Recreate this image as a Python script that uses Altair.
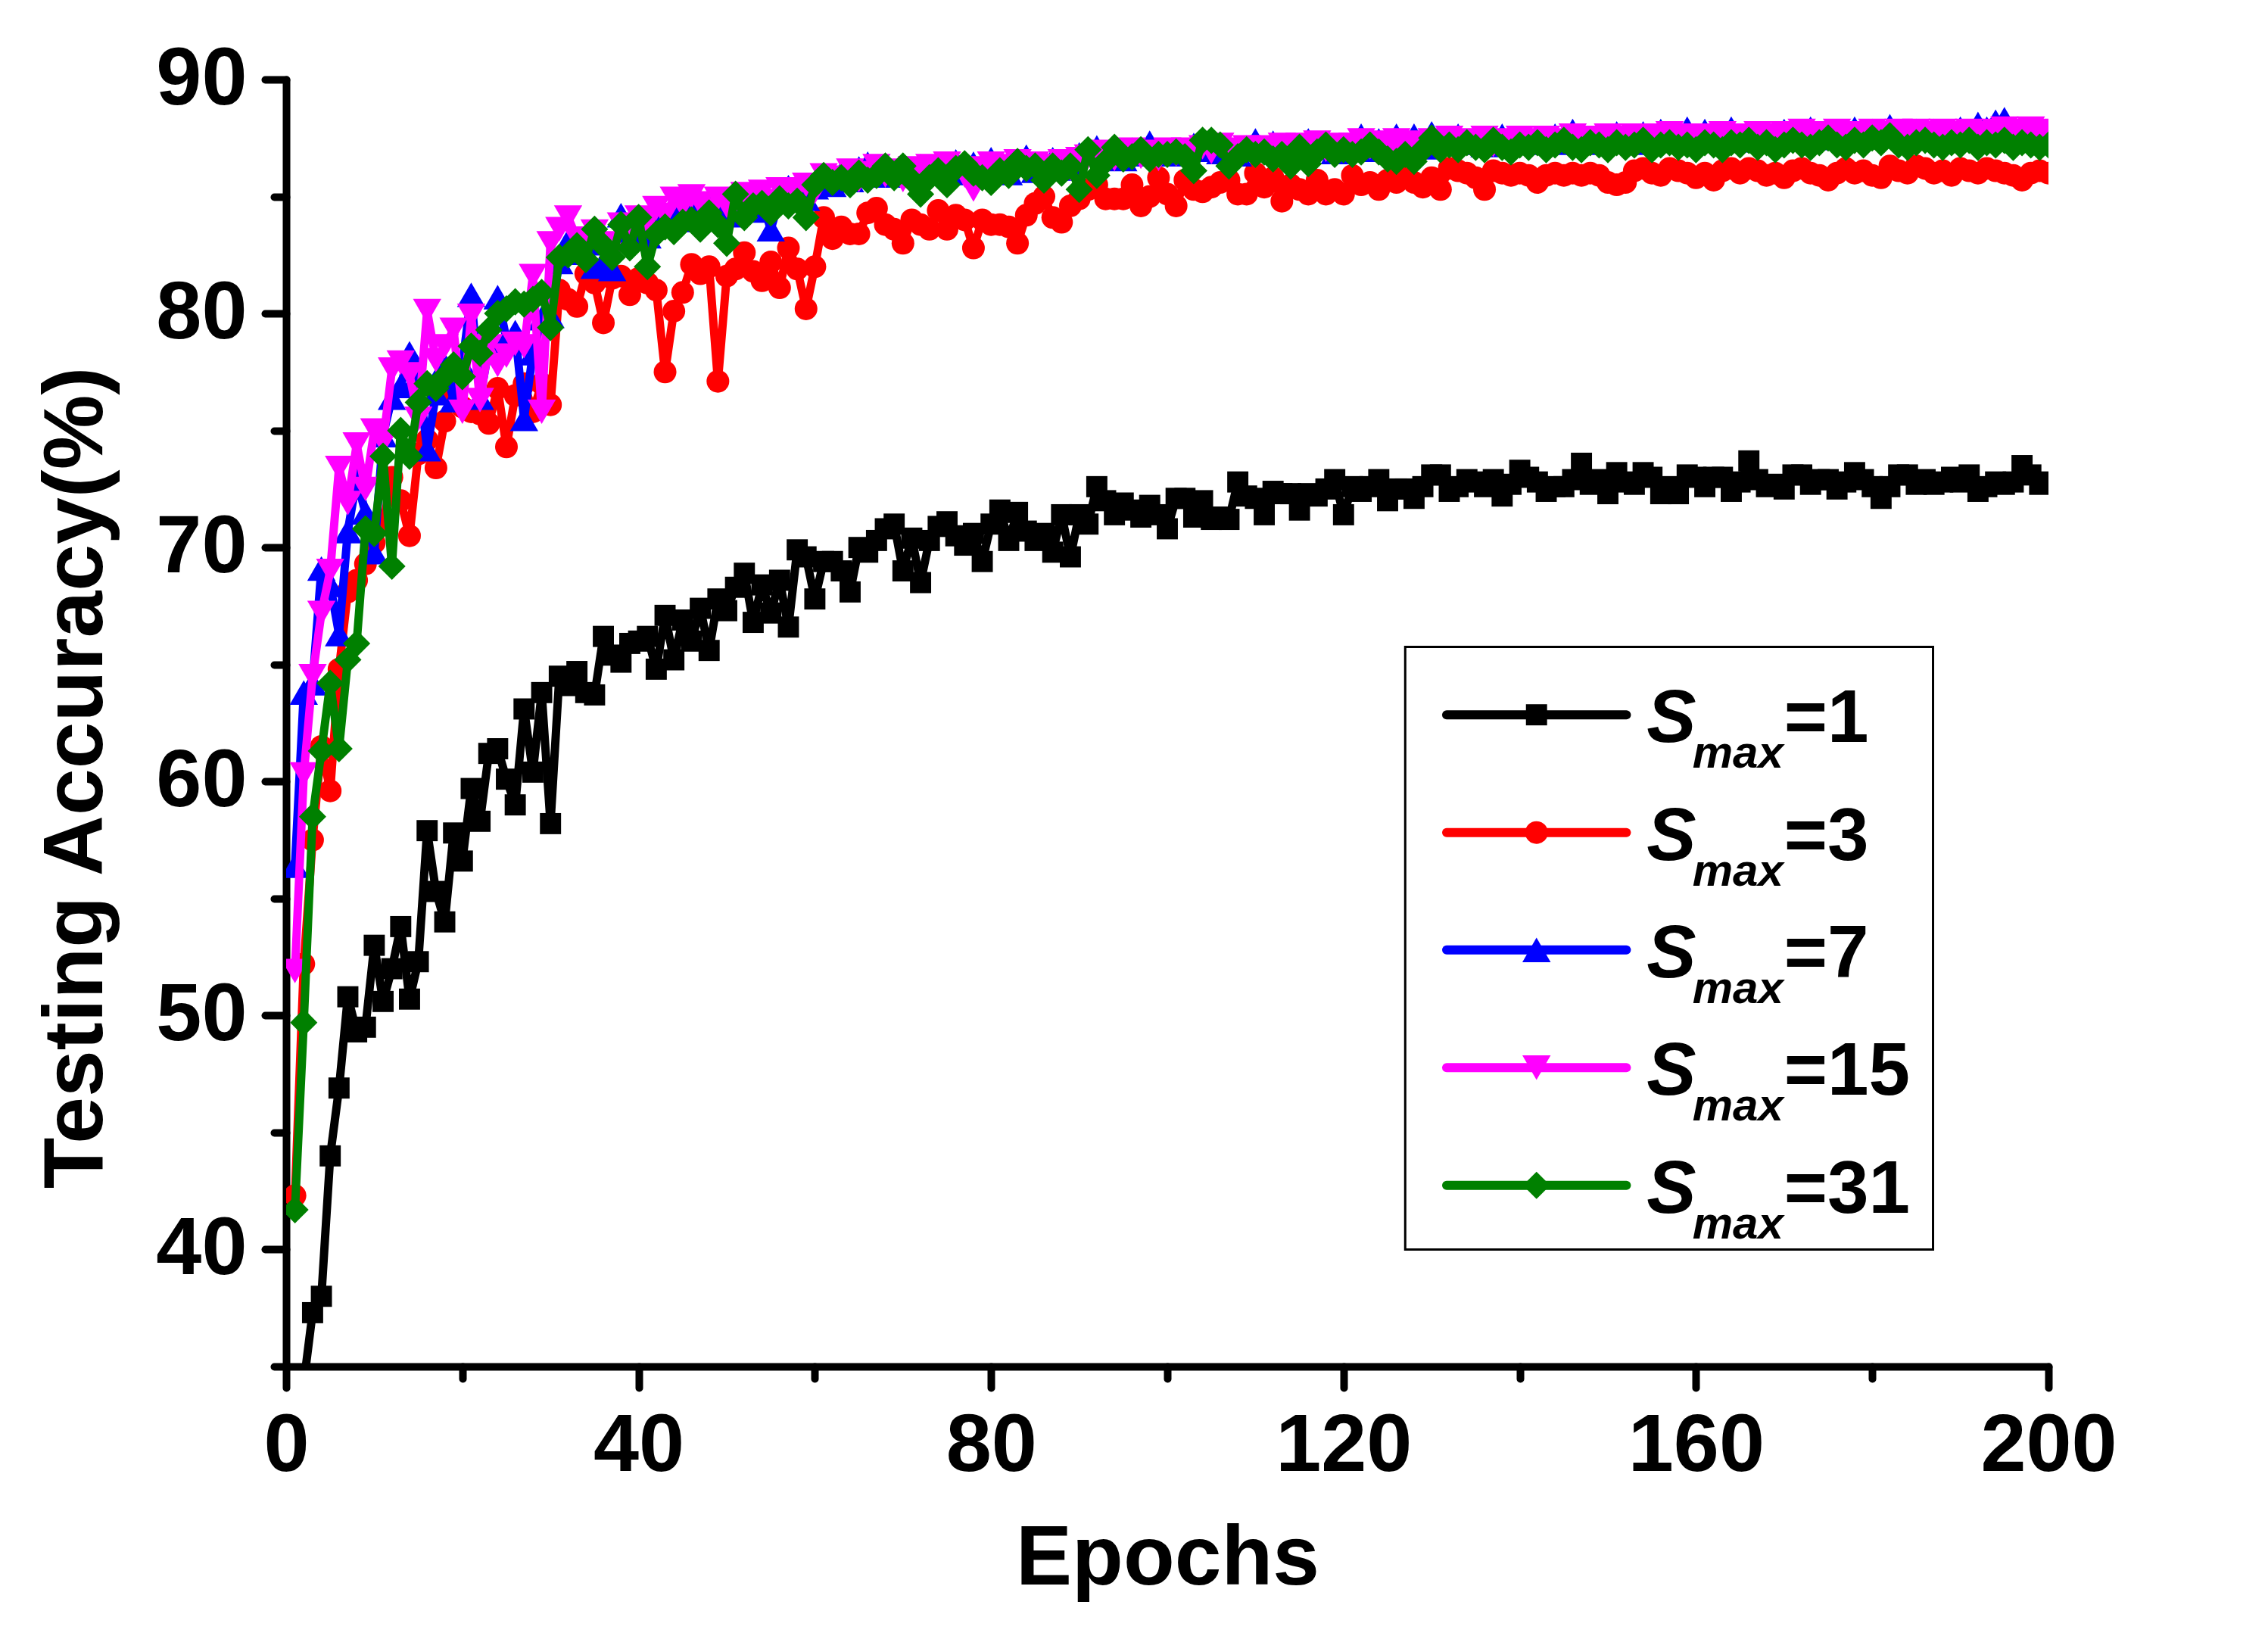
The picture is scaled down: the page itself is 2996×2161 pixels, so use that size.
import altair as alt
import pandas as pd

epochs = list(range(1, 201))

acc_s1 = [
    30.5, 34.3, 37.3, 38.0, 44.0, 46.9, 50.8, 49.3, 49.5, 53.0,
    50.6, 52.0, 53.8, 50.7, 52.3, 57.9, 55.3, 54.0, 57.8, 56.6,
    59.7, 58.3, 61.2, 61.4, 60.1, 59.0, 63.1, 60.4, 63.8, 58.2,
    64.5, 64.1, 64.7, 63.8, 63.7, 66.2, 65.4, 65.1, 65.9, 66.0,
    66.2, 64.8, 67.1, 65.2, 66.9, 66.0, 67.4, 65.6, 67.8, 67.3,
    68.3, 68.9, 66.8, 68.4, 67.2, 68.6, 66.6, 69.9, 69.6, 67.8,
    69.4, 69.4, 69.0, 68.1, 70.0, 69.8, 70.3, 70.8, 71.0, 69.0,
    70.4, 68.5, 70.3, 70.9, 71.1, 70.5, 70.1, 70.6, 69.4, 71.0,
    71.6, 70.3, 71.5, 70.7, 70.3, 70.6, 69.8, 71.4, 69.6, 71.4,
    71.0, 72.6, 72.0, 71.4, 71.9, 71.6, 71.3, 71.8, 71.4, 70.8,
    72.1, 72.1, 71.3, 72.0, 71.2, 71.3, 71.2, 72.8, 72.2, 72.1,
    71.4, 72.4, 72.3, 72.3, 71.6, 72.3, 72.2, 72.5, 72.9, 71.4,
    72.6, 72.4, 72.6, 72.9, 72.0, 72.5, 72.5, 72.1, 72.6, 73.1,
    73.1, 72.4, 72.6, 72.9, 72.8, 72.6, 72.9, 72.2, 72.7, 73.3,
    73.0, 72.8, 72.4, 72.6, 72.6, 72.9, 73.6, 72.7, 72.9, 72.3,
    73.2, 72.8, 72.7, 73.2, 73.0, 72.3, 72.6, 72.3, 73.1, 73.0,
    72.6, 73.0, 73.0, 72.4, 72.8, 73.7, 72.9, 72.6, 72.7, 72.5,
    73.1, 73.1, 72.7, 72.9, 72.9, 72.5, 72.8, 73.2, 72.9, 72.6,
    72.1, 72.6, 73.1, 73.1, 72.7, 72.9, 72.7, 72.8, 73.0, 72.8,
    73.1, 72.4, 72.6, 72.8, 72.7, 72.8, 73.5, 73.1, 72.7, 72.8,
]

acc_s3 = [
    42.3, 52.2, 57.5, 61.5, 59.6, 64.8, 68.1, 68.6, 69.3, 70.2,
    71.0, 73.0, 72.0, 70.5, 74.0, 74.6, 73.4, 75.4, 76.6, 76.0,
    75.8, 75.7, 75.3, 76.8, 74.3, 76.5, 77.0, 75.8, 77.0, 76.1,
    81.0, 80.6, 80.3, 81.7, 81.3, 79.6, 81.5, 81.6, 80.8, 81.5,
    81.3, 81.0, 77.5, 80.1, 80.9, 82.1, 81.7, 82.0, 77.1, 81.6,
    81.9, 82.6, 81.8, 81.4, 82.2, 81.1, 82.8, 81.9, 80.2, 82.0,
    84.1, 83.2, 83.7, 83.4, 83.4, 84.3, 84.5, 83.8, 83.6, 83.0,
    84.0, 83.8, 83.6, 84.4, 83.6, 84.2, 84.0, 82.8, 84.0, 83.8,
    83.8, 83.7, 83.0, 84.2, 84.7, 85.0, 84.1, 83.9, 84.6, 84.9,
    85.3, 85.5, 84.9, 84.9, 84.9, 85.5, 84.6, 85.0, 85.8, 85.1,
    84.6, 85.7, 85.3, 85.2, 85.4, 85.6, 85.7, 85.1, 85.1, 86.0,
    85.4, 85.8, 84.8, 85.5, 85.3, 85.1, 85.7, 85.1, 85.3, 85.1,
    85.9, 85.5, 85.6, 85.3, 85.7, 85.6, 85.9, 85.6, 85.4, 85.8,
    85.3, 86.2, 86.1, 86.0, 85.8, 85.3, 86.1, 86.0, 85.9, 86.0,
    85.9, 85.6, 85.9, 86.0, 85.9, 86.0, 85.9, 86.0, 85.9, 85.6,
    85.5, 85.6, 86.1, 86.2, 86.0, 85.9, 86.2, 86.1, 86.0, 85.8,
    86.0, 85.7, 86.1, 86.2, 86.0, 86.2, 86.1, 85.9, 86.0, 85.8,
    86.1, 86.2, 86.0, 85.9, 85.7, 86.0, 86.2, 86.0, 86.1, 85.9,
    85.8, 86.3, 86.1, 86.0, 86.3, 86.2, 86.0, 86.1, 85.9, 86.2,
    86.1, 86.0, 86.2, 86.1, 86.0, 85.9, 85.7, 86.0, 86.1, 86.0,
]

acc_s7 = [
    56.4, 63.8, 64.2, 69.1, 68.4, 66.3, 70.7, 72.9, 71.5, 69.8,
    74.8, 76.4, 76.9, 78.3, 77.4, 74.2, 76.6, 77.8, 76.3, 77.8,
    80.8, 76.4, 78.5, 80.7, 78.9, 79.2, 75.5, 78.3, 79.8, 79.9,
    82.2, 83.1, 82.6, 83.0, 82.0, 82.2, 81.9, 84.2, 83.5, 84.0,
    83.3, 84.3, 83.8, 84.5, 84.0, 84.6, 84.2, 84.8, 84.5, 84.2,
    84.6, 85.0, 84.4, 84.8, 83.6, 84.9, 85.4, 85.1, 84.9, 85.4,
    85.8, 85.5, 86.0, 85.7, 86.2, 86.4, 85.9, 86.3, 86.0, 86.2,
    85.9, 86.3, 86.1, 86.4, 86.2, 86.5, 86.0, 86.4, 86.2, 86.6,
    86.3, 86.0, 86.5, 86.7, 86.1, 86.4, 86.6, 86.2, 86.3, 86.8,
    86.9, 87.1, 86.7, 86.9, 86.6, 87.0, 86.8, 87.3, 86.9, 86.8,
    87.0, 86.8, 87.2, 87.0, 87.3, 86.9, 87.1, 86.8, 87.1, 87.4,
    87.0, 87.3, 86.9, 87.2, 87.0, 87.4, 87.1, 87.3, 86.9, 87.2,
    87.3, 87.6, 87.0, 87.4, 87.2, 87.6, 87.3, 87.6, 87.1, 87.7,
    87.4, 87.3, 87.6, 87.3, 87.5, 87.2, 87.4, 87.6, 87.3, 87.4,
    87.5, 87.3, 87.5, 87.6, 87.3, 87.8, 87.4, 87.3, 87.6, 87.4,
    87.7, 87.5, 87.3, 87.7, 87.4, 87.8, 87.5, 87.6, 87.9, 87.5,
    87.8, 87.6, 87.5, 87.9, 87.6, 87.4, 87.7, 87.5, 87.6, 87.8,
    87.5, 87.6, 87.9, 87.6, 87.8, 87.5, 87.7, 87.9, 87.6, 87.8,
    87.7, 88.0, 87.6, 87.7, 87.8, 87.6, 87.8, 87.5, 87.7, 87.9,
    87.7, 88.1, 87.9, 88.2, 88.3, 87.9, 87.8, 87.6, 87.7, 87.6,
]

acc_s15 = [
    51.9, 60.3, 64.5, 67.2, 69.0, 73.4, 71.9, 74.4, 72.5, 75.0,
    74.5, 77.6, 77.9, 77.4, 75.5, 80.1, 78.0, 78.6, 79.3, 75.8,
    79.9, 76.3, 78.6, 77.8, 78.2, 78.7, 78.6, 81.6, 75.8, 83.0,
    83.6, 84.1, 83.2, 82.9, 83.5, 83.0, 82.5, 83.8, 83.4, 84.1,
    83.9, 84.5, 84.2, 84.9, 84.6, 85.0, 84.7, 84.4, 84.9, 84.6,
    84.8, 85.1, 84.9, 85.2, 84.8, 85.3, 85.0, 85.3, 85.5, 85.2,
    85.9, 85.6, 85.8, 86.1, 85.7, 86.0, 86.3, 85.9, 86.1, 85.7,
    86.2, 86.0, 86.3, 86.1, 86.4, 86.2, 85.9, 85.3, 86.2, 86.4,
    86.1, 86.3, 86.5, 86.2, 86.4, 86.0, 86.3, 86.5, 86.2, 86.6,
    86.7, 86.5, 86.9, 86.6, 86.8, 87.0, 86.7, 86.9, 86.6, 87.0,
    86.8, 87.0, 86.7, 87.1, 86.9, 87.2, 86.8, 87.0, 87.1, 86.9,
    87.1, 86.9, 87.2, 87.0, 87.2, 86.9, 87.3, 87.0, 87.2, 87.1,
    87.2, 87.4, 87.1, 87.3, 87.0, 87.4, 87.2, 87.3, 87.1, 87.4,
    87.3, 87.5, 87.2, 87.4, 87.3, 87.5, 87.2, 87.4, 87.3, 87.5,
    87.4, 87.3, 87.5, 87.2, 87.4, 87.6, 87.3, 87.5, 87.4, 87.6,
    87.5, 87.3, 87.6, 87.4, 87.6, 87.5, 87.7, 87.4, 87.6, 87.5,
    87.6, 87.4, 87.7, 87.5, 87.6, 87.5, 87.7, 87.6, 87.4, 87.7,
    87.6, 87.8, 87.5, 87.7, 87.6, 87.8, 87.5, 87.7, 87.6, 87.8,
    87.6, 87.7, 87.8, 87.6, 87.8, 87.7, 87.6, 87.8, 87.7, 87.6,
    87.8, 87.7, 87.6, 87.8, 87.9, 87.7, 87.8, 87.9, 87.7, 87.8,
]

acc_s31 = [
    41.7, 49.7, 58.5, 61.3, 64.2, 61.4, 65.2, 65.9, 70.8, 70.6,
    73.9, 69.2, 75.0, 73.9, 76.2, 77.0, 76.8, 77.3, 77.8, 77.3,
    78.6, 78.3, 79.3, 80.0, 80.2, 80.5, 80.4, 80.6, 80.9, 79.4,
    82.4, 82.5, 82.9, 82.3, 83.6, 82.9, 82.4, 83.8, 82.8, 84.1,
    82.0, 83.4, 83.7, 83.5, 83.9, 84.0, 83.6, 84.3, 83.8, 83.0,
    85.1, 84.1, 84.6, 84.7, 84.3, 84.9, 84.6, 84.8, 84.1, 85.5,
    85.9, 85.6, 85.8, 85.5, 86.0, 85.7, 85.9, 86.3, 85.8, 86.3,
    85.7, 85.1, 85.8, 86.1, 85.5, 86.2, 86.4, 86.0, 85.8, 85.6,
    86.1, 85.9, 86.5, 86.2, 86.3, 85.7, 86.3, 86.0, 86.3, 85.3,
    87.0, 85.9, 86.5, 87.1, 86.6, 86.7, 87.0, 86.6, 86.8, 86.8,
    86.9, 86.7, 86.1, 87.4, 87.4, 87.2, 86.3, 86.7, 87.0, 86.8,
    86.9, 86.6, 86.8, 86.3, 87.1, 86.4, 86.9, 87.2, 86.8, 87.0,
    86.8, 86.9, 87.2, 86.9, 86.6, 86.5, 86.8, 86.5, 87.0, 87.5,
    87.0, 87.2, 87.0, 87.3, 87.1, 87.0, 87.4, 87.1, 86.9, 87.2,
    87.1, 87.3, 87.0, 87.2, 87.4, 87.1, 87.0, 87.3, 87.2, 87.0,
    87.3, 87.1, 87.2, 87.4, 87.0, 87.2, 87.3, 87.1, 87.2, 87.0,
    87.3, 87.2, 87.0, 87.3, 87.2, 87.4, 87.1, 87.3, 87.0, 87.2,
    87.4, 87.2, 87.1, 87.3, 87.5, 87.2, 87.1, 87.4, 87.2, 87.5,
    87.3, 87.6, 87.2, 87.1, 87.3, 87.4, 87.2, 87.1, 87.3, 87.2,
    87.4, 87.1, 87.3, 87.2, 87.4, 87.1, 87.3, 87.2, 87.1, 87.2,
]

series_values = [acc_s1, acc_s3, acc_s7, acc_s15, acc_s31]
series_labels = ["1", "3", "7", "15", "31"]
for s in series_values:
    assert len(s) == 200, len(s)

# styles
colors = ["#000000", "#FF0000", "#0000FF", "#FF00FF", "#008000"]
shapes = ["square", "circle", "triangle-up", "triangle-down", "diamond"]
sizes = [780, 900, 1400, 1400, 1300]
LINE_W = 11
FONT = "Liberation Sans"
FS_LABEL = 108
FS_TITLE = 111
FS_LEG = 98
FS_SUB = 60

# legend layout (in data units of the chart's own scales)
legend_rows = [62.85, 57.82, 52.80, 47.77, 42.74]
legend_box = dict(x=127.0, x2=186.9, y=65.75, y2=40.0)
legend_line = dict(x=131.7, x2=152.1, mark=141.9)
legend_text_x = dict(s=154.4, sub=159.6, eq=170.0)

x_axis = alt.Axis(
    values=list(range(0, 201, 20)),
    labelExpr="datum.value % 40 === 0 ? datum.label : ''",
    tickSize={"condition": {"test": "datum.value % 40 === 0", "value": 28}, "value": 16},
    title="Epochs",
    titlePadding=40,
    labelPadding=24,
    labelLimit=600,
    orient="bottom",
)
y_axis = alt.Axis(
    values=list(range(35, 91, 5)),
    labelExpr="datum.value % 10 === 0 ? datum.label : ''",
    tickSize={"condition": {"test": "datum.value % 10 === 0", "value": 28}, "value": 16},
    title="Testing Accuracy(%)",
    titlePadding=48,
    labelPadding=24,
    labelLimit=600,
    titleY=922,
    orient="left",
)

xs = alt.Scale(domain=[0, 200], nice=False, zero=False)
ys = alt.Scale(domain=[35, 90], nice=False, zero=False)


def X(field):
    return alt.X(field, scale=xs, axis=x_axis)


def Y(field):
    return alt.Y(field, scale=ys, axis=y_axis)


layers = []
for vals, lab, col, shp, sz in zip(series_values, series_labels, colors, shapes, sizes):
    df = pd.DataFrame({"epoch": epochs, "acc": vals, "series": "Smax=" + lab})
    base = alt.Chart(df).encode(x=X("epoch:Q"), y=Y("acc:Q"))
    layers.append(base.mark_line(color=col, strokeWidth=LINE_W, strokeJoin="round", clip=True))
    layers.append(base.mark_point(shape=shp, size=sz, filled=True, color=col, opacity=1, clip=True))

# legend
box_df = pd.DataFrame([legend_box])
layers.append(
    alt.Chart(box_df).mark_rect(fill="white", stroke="black", strokeWidth=3).encode(
        x=X("x:Q"), x2="x2:Q", y=Y("y:Q"), y2="y2:Q",
    )
)
leg_df = pd.DataFrame({
    "row": legend_rows,
    "lab": series_labels,
    "lx": [legend_line["x"]] * 5,
    "lx2": [legend_line["x2"]] * 5,
    "mx": [legend_line["mark"]] * 5,
    "sx": [legend_text_x["s"]] * 5,
    "subx": [legend_text_x["sub"]] * 5,
    "eqx": [legend_text_x["eq"]] * 5,
    "eqtext": ["=" + l for l in series_labels],
})
for i, (col, shp, sz) in enumerate(zip(colors, shapes, sizes)):
    one = alt.Chart(leg_df.iloc[[i]])
    layers.append(
        one.mark_rule(color=col, strokeWidth=LINE_W + 1, strokeCap="round").encode(
            x=X("lx:Q"), x2="lx2:Q", y=Y("row:Q"),
        )
    )
    layers.append(
        one.mark_point(shape=shp, size=sz, filled=True, color=col, opacity=1).encode(
            x=X("mx:Q"), y=Y("row:Q"),
        )
    )

leg_all = alt.Chart(leg_df)
layers.append(
    leg_all.mark_text(font=FONT, fontWeight="bold", fontStyle="italic", fontSize=FS_LEG,
                      align="left", baseline="alphabetic", dy=36, color="black").encode(
        x=X("sx:Q"), y=Y("row:Q"), text=alt.value("S"),
    )
)
layers.append(
    leg_all.mark_text(font=FONT, fontWeight="bold", fontStyle="italic", fontSize=FS_SUB,
                      align="left", baseline="alphabetic", dy=70, color="black").encode(
        x=X("subx:Q"), y=Y("row:Q"), text=alt.value("max"),
    )
)
layers.append(
    leg_all.mark_text(font=FONT, fontWeight="bold", fontSize=FS_LEG,
                      align="left", baseline="alphabetic", dy=36, color="black").encode(
        x=X("eqx:Q"), y=Y("row:Q"), text="eqtext:N",
    )
)

chart = alt.layer(*layers).properties(
    width=2328,
    height=1700,
    autosize=alt.AutoSizeParams(type="none"),
    padding={"left": 370, "top": 97, "right": 282, "bottom": 348},
    background="white",
).configure_view(stroke=None).configure_axis(
    grid=False,
    domainColor="black",
    domainWidth=10,
    domainCap="round",
    tickColor="black",
    tickWidth=10,
    tickCap="round",
    labelFont=FONT,
    labelFontSize=FS_LABEL,
    labelFontWeight="bold",
    labelColor="black",
    labelOverlap=False,
    labelFlush=False,
    labelLimit=600,
    titleFont=FONT,
    titleFontSize=FS_TITLE,
    titleFontWeight="bold",
    titleColor="black",
)

chart.save("out.html", embed_options={"renderer": "svg", "actions": False})
